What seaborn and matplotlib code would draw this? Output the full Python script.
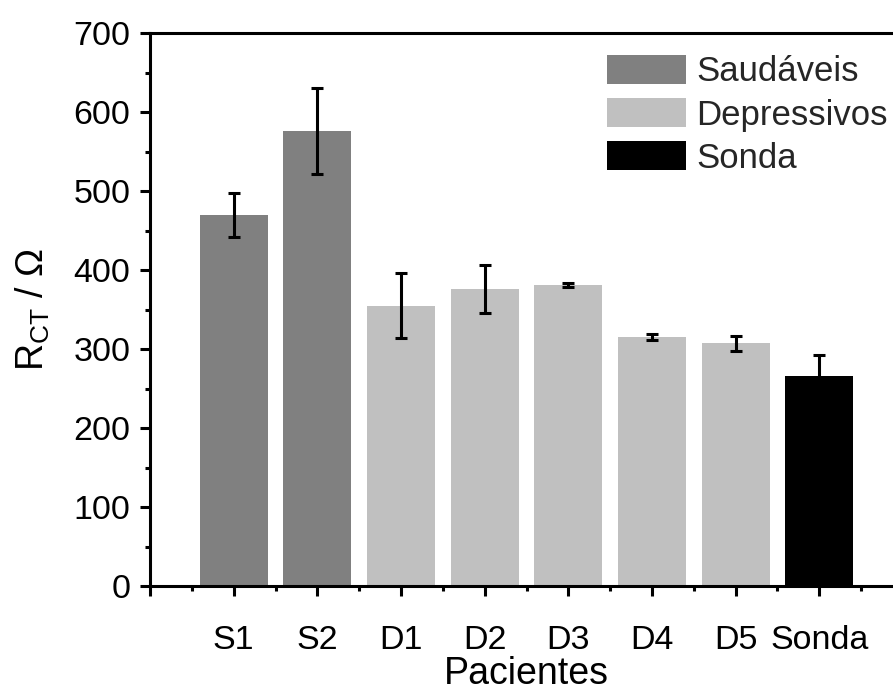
import matplotlib
matplotlib.use("Agg")
import matplotlib.pyplot as plt
import seaborn as sns
import pandas as pd
import numpy as np
from matplotlib.ticker import FixedLocator, MultipleLocator

# Charge-transfer resistance per patient sample
pacientes = ["S1", "S2", "D1", "D2", "D3", "D4", "D5", "Sonda"]
grupos = ["Saudáveis", "Saudáveis", "Depressivos", "Depressivos",
          "Depressivos", "Depressivos", "Depressivos", "Sonda"]
rct = [470, 576, 355, 376, 381, 315, 307, 266]
erro = [28, 54, 41, 30, 2, 4, 10, 26]
cores = {"Saudáveis": "#808080", "Depressivos": "#c0c0c0", "Sonda": "#000000"}

sns.set_theme(style="ticks")
plt.rcParams["font.family"] = ["Liberation Sans", "DejaVu Sans"]
plt.rcParams["mathtext.fontset"] = "custom"
plt.rcParams["mathtext.rm"] = "Liberation Sans"
plt.rcParams["mathtext.it"] = "Liberation Sans:italic"

df = pd.DataFrame({"Paciente": pacientes, "Grupo": grupos, "RCT": rct})

fig = plt.figure(figsize=(8.93, 6.93), dpi=100)
ax = fig.add_axes([150 / 893, 1 - 586 / 693, 753 / 893, 553 / 693])

sns.barplot(data=df, x="Paciente", y="RCT", hue="Grupo", palette=cores,
            dodge=False, width=0.81, errorbar=None, saturation=1,
            linewidth=0, ax=ax)
ax.errorbar(np.arange(len(pacientes)), rct, yerr=erro, fmt="none",
            ecolor="black", elinewidth=2.2, capsize=4, capthick=2.2, zorder=5)

ax.set_xlim(-1, 8)
ax.set_ylim(0, 700)
ax.xaxis.set_major_locator(FixedLocator(np.arange(-1, 9)))
ax.set_xticklabels([""] + pacientes + [""])
ax.xaxis.set_minor_locator(FixedLocator(np.arange(-0.5, 8, 1)))
ax.yaxis.set_major_locator(MultipleLocator(100))
ax.yaxis.set_minor_locator(MultipleLocator(50))

for side in ["left", "bottom", "top", "right"]:
    ax.spines[side].set_linewidth(2.2)
    ax.spines[side].set_color("black")

ax.tick_params(axis="both", which="major", direction="out", length=7.2,
               width=2.2, color="black", labelsize=24.5, labelcolor="black")
ax.tick_params(axis="both", which="minor", direction="out", length=3.6,
               width=2.2, color="black")
ax.tick_params(axis="x", which="major", pad=21)
ax.tick_params(axis="y", which="major", pad=7)

ax.set_xlabel("Pacientes", fontsize=27, labelpad=0, color="black")
ax.set_ylabel(r"$\mathregular{R_{CT}}$ / Ω", fontsize=27, labelpad=15,
              color="black")

handles, labels = ax.get_legend_handles_labels()
ax.legend(handles, labels, loc="upper left",
          bbox_to_anchor=(607 / 893, 1 - 55 / 693),
          bbox_transform=fig.transFigure, frameon=False, fontsize=25,
          handlelength=2.28, handleheight=0.9, handletextpad=0.28,
          labelspacing=0.28, borderpad=0, borderaxespad=0)

fig.savefig("out.png", dpi=100)
